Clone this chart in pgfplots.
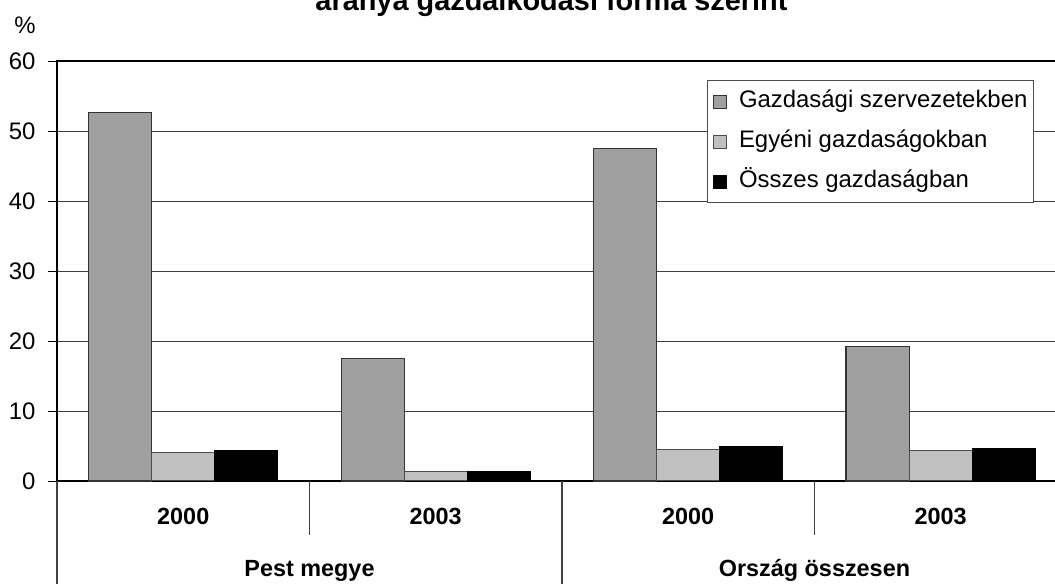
\documentclass[border=0pt]{standalone}
\usepackage{fontspec}
\setmainfont{Liberation Sans}
\usepackage{pgfplots}
\pgfplotsset{compat=1.18}
\definecolor{gazd}{RGB}{160,160,160}
\definecolor{egy}{RGB}{192,192,192}
\newcommand{\fs}{\fontsize{24}{28}\selectfont}
\newcommand{\fb}{\fontsize{23.5}{28}\selectfont\bfseries}
\begin{document}
\begin{tikzpicture}[x=1bp,y=1bp]
\path[use as bounding box] (0,0) rectangle (1055,584);
\clip (0,0) rectangle (1055,584);
\node[font=\fontsize{29}{33}\selectfont\bfseries, anchor=base, inner sep=0pt] at (551.5,573) {aránya gazdálkodási forma szerint};
\node[font=\fs] at (25,559) {\%};
\begin{axis}[
  at={(57bp,103bp)}, anchor=south west, scale only axis,
  width=1010bp, height=420bp,
  xmin=-0.5, xmax=3.5, ymin=0, ymax=60,
  ytick={0,10,...,60},
  ymajorgrids, grid style={black!75, line width=0.8bp},
  axis line style={black, line width=1.6bp},
  xtick=\empty,
  ytick style={black, line width=0.8bp},
  tick align=outside, major tick length=9bp,
  /pgf/number format/assume math mode=true,
  yticklabel style={font=\fs, anchor=east, xshift=-9bp},
  legend style={at={(0.6436,0.9548)}, anchor=north west, draw=black!70, line width=0.8bp,
    font=\fs, row sep=18bp, inner xsep=6bp, inner ysep=10bp,
    nodes={inner sep=0bp, text height=17bp, text depth=5bp},
    /tikz/every odd column/.append style={column sep=12bp}},
  legend cell align=left,
  legend image code/.code={\draw[#1, line width=0.6bp] (0bp,-6.5bp) rectangle (13bp,6.5bp);},
  clip=false,
]
\addplot[ybar, bar width=0.25, bar shift=-0.25, fill=gazd, draw=black!80, line width=1.1bp]
  coordinates {(0,52.6) (1,17.5) (2,47.5) (3,19.2)};
\addplot[ybar, bar width=0.25, bar shift=0, fill=egy, draw=black!70, line width=1bp]
  coordinates {(0,4.0) (1,1.4) (2,4.5) (3,4.3)};
\addplot[ybar, bar width=0.25, bar shift=0.25, fill=black, draw=black, line width=1bp]
  coordinates {(0,4.3) (1,1.4) (2,4.9) (3,4.65)};
\legend{Gazdasági szervezetekben, Egyéni gazdaságokban, Összes gazdaságban}
\draw[black!75, line width=1.2bp] (axis cs:-0.5,0) -- ++(0bp,-110bp);
\draw[black!75, line width=1.2bp] (axis cs:1.5,0) -- ++(0bp,-110bp);
\draw[black!75, line width=1.2bp] (axis cs:0.5,0) -- ++(0bp,-54bp);
\draw[black!75, line width=1.2bp] (axis cs:2.5,0) -- ++(0bp,-54bp);
\node[font=\fb, anchor=base] at (axis cs:0,0) [yshift=-44bp] {2000};
\node[font=\fb, anchor=base] at (axis cs:1,0) [yshift=-44bp] {2003};
\node[font=\fb, anchor=base] at (axis cs:2,0) [yshift=-44bp] {2000};
\node[font=\fb, anchor=base] at (axis cs:3,0) [yshift=-44bp] {2003};
\node[font=\fb, anchor=base] at (axis cs:0.5,0) [yshift=-96bp] {Pest megye};
\node[font=\fb, anchor=base] at (axis cs:2.5,0) [yshift=-96bp] {Ország összesen};
\end{axis}
\end{tikzpicture}
\end{document}
